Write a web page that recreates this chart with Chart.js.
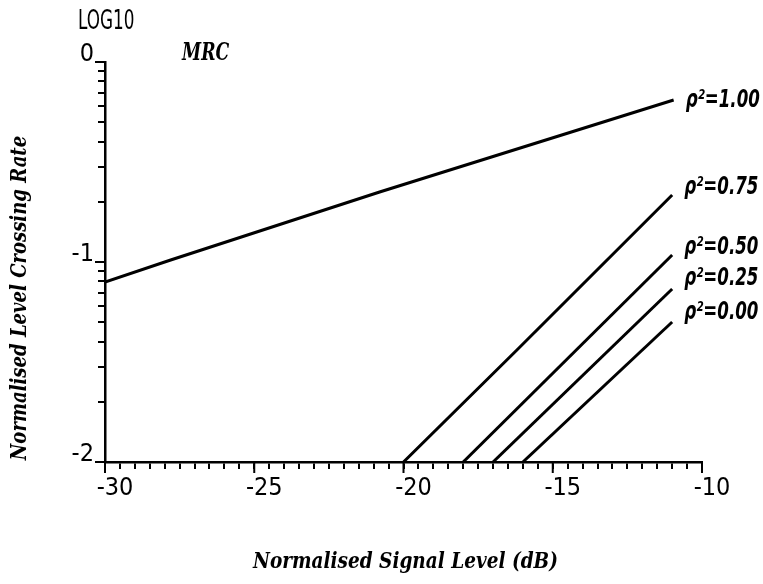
<!DOCTYPE html>
<html lang="en">
<head>
<meta charset="UTF-8">
<title>MRC level crossing rate</title>
<script src="https://cdn.jsdelivr.net/npm/chart.js"></script>
<style>
  html, body { margin: 0; padding: 0; background: #fff; }
  #wrap { width: 763px; height: 584px; }
</style>
</head>
<body>
<div id="wrap"><canvas id="lcr" width="763" height="584"></canvas></div>
<script>
// signal level (dB) vs log10 of the normalised level crossing rate, one pair per correlation
const rhoLabels = ['ρ²=1.00', 'ρ²=0.75', 'ρ²=0.50', 'ρ²=0.25', 'ρ²=0.00'];

const levelRho100 = [-30, -27.8, -20.8, -10.95];
const rateRho100  = [-1.10, -0.99, -0.65, -0.19];

const levelRho075 = [-20.0, -16.2, -11.0];
const rateRho075  = [-2.00, -1.44, -0.665];

const levelRho050 = [-18.0, -11.0];
const rateRho050  = [-2.00, -0.965];

const levelRho025 = [-17.0, -11.0];
const rateRho025  = [-2.00, -1.135];

const levelRho000 = [-16.0, -11.0];
const rateRho000  = [-2.00, -1.30];

// axis ticks
const xMajorTicks = [-30, -25, -20, -15, -10];
const yMajorTicks = [0, -1, -2];

const series = [
  [levelRho100, rateRho100],
  [levelRho075, rateRho075],
  [levelRho050, rateRho050],
  [levelRho025, rateRho025],
  [levelRho000, rateRho000]
];

// minor ticks: every 0.5 dB on x, log spacing (2..9) inside each decade on y
const xTickValues = [];
for (let v = -30; v <= -10; v += 0.5) xTickValues.push(v);
const yTickValues = [];
for (let d = 0; d > -2; d--) {
  yTickValues.push(d);
  for (let k = 9; k >= 2; k--) yTickValues.push(d - 1 + Math.log10(k));
}
yTickValues.push(-2);

const plotFont = '"DejaVu Sans Condensed", "Liberation Sans Narrow", "DejaVu Sans", sans-serif';
const scriptFont = '"DejaVu Serif", "Liberation Serif", serif';

// label offsets (px) from the last point of each curve
const labelNudge = [[12, 0], [12, -8], [12, -8], [12, -11], [12, -10]];

function drawText(ctx, text, x, y, font, opts) {
  opts = opts || {};
  ctx.save();
  ctx.translate(x, y);
  if (opts.rotate) ctx.rotate(opts.rotate);
  ctx.scale(opts.sx || 1, 1);
  ctx.font = font;
  ctx.fillStyle = '#000';
  ctx.textAlign = opts.align || 'left';
  ctx.textBaseline = 'middle';
  ctx.fillText(text, 0, 0);
  ctx.restore();
}

const decorations = {
  id: 'decorations',
  afterDraw(chart) {
    const ctx = chart.ctx;
    const xs = chart.scales.x, ys = chart.scales.y;
    const area = chart.chartArea;

    // longer marks at the labelled ticks
    ctx.save();
    ctx.strokeStyle = '#000';
    ctx.lineWidth = 2;
    ctx.beginPath();
    xMajorTicks.forEach(v => {
      const px = xs.getPixelForValue(v);
      ctx.moveTo(px, area.bottom);
      ctx.lineTo(px, area.bottom + 11);
    });
    yMajorTicks.forEach(v => {
      const py = ys.getPixelForValue(v);
      ctx.moveTo(area.left - 10, py);
      ctx.lineTo(area.left, py);
    });
    ctx.stroke();
    ctx.restore();

    // curve labels at the right-hand ends
    chart.data.datasets.forEach((ds, i) => {
      const last = ds.data[ds.data.length - 1];
      const px = xs.getPixelForValue(last.x) + labelNudge[i][0];
      const py = ys.getPixelForValue(last.y) + labelNudge[i][1];
      drawText(ctx, rhoLabels[i], px, py, 'italic bold 25px ' + plotFont, { sx: 0.74 });
    });

    drawText(ctx, 'LOG10', 78, 22, '26px ' + plotFont, { sx: 0.72 });
    drawText(ctx, 'MRC', 182, 54, 'italic bold 24px ' + scriptFont, { sx: 0.72 });

    // axis titles
    drawText(ctx, 'Normalised Signal Level (dB)', (area.left + area.right) / 2 + 2, 562,
      'italic bold 22px ' + scriptFont, { align: 'center', sx: 0.84 });
    drawText(ctx, 'Normalised Level Crossing Rate', 20, 298,
      'italic bold 22px ' + scriptFont, { align: 'center', sx: 0.82, rotate: -Math.PI / 2 });
  }
};

new Chart(document.getElementById('lcr'), {
  type: 'line',
  data: {
    datasets: series.map(([xv, yv], i) => ({
      label: rhoLabels[i],
      data: xv.map((x, j) => ({ x: x, y: yv[j] })),
      borderColor: '#000',
      borderWidth: 3,
      pointRadius: 0,
      fill: false,
      tension: 0
    }))
  },
  options: {
    responsive: false,
    animation: false,
    devicePixelRatio: 1,
    layout: { padding: { top: 62, right: 61, left: 0, bottom: 0 } },
    plugins: { legend: { display: false }, tooltip: { enabled: false } },
    scales: {
      x: {
        type: 'linear',
        min: -30,
        max: -10,
        afterBuildTicks: s => { s.ticks = xTickValues.map(v => ({ value: v })); },
        afterFit: s => { s.height = 122; },
        ticks: {
          autoSkip: false,
          maxRotation: 0,
          color: '#000',
          font: { family: plotFont, size: 25 },
          labelOffset: 10,
          padding: 4,
          callback: v => xMajorTicks.includes(v) ? String(v) : ''
        },
        grid: { drawOnChartArea: false, drawTicks: true, tickLength: 7, color: '#000', lineWidth: 2 },
        border: { display: true, color: '#000', width: 2.5 }
      },
      y: {
        type: 'linear',
        min: -2,
        max: 0,
        afterBuildTicks: s => { s.ticks = yTickValues.map(v => ({ value: v })); },
        afterFit: s => { s.width = 105; },
        ticks: {
          autoSkip: false,
          color: '#000',
          font: { family: plotFont, size: 25 },
          labelOffset: -8,
          padding: 4,
          callback: v => yMajorTicks.includes(v) ? String(v) : ''
        },
        grid: { drawOnChartArea: false, drawTicks: true, tickLength: 7, color: '#000', lineWidth: 2 },
        border: { display: true, color: '#000', width: 2.5 }
      }
    }
  },
  plugins: [decorations]
});
</script>
</body>
</html>
